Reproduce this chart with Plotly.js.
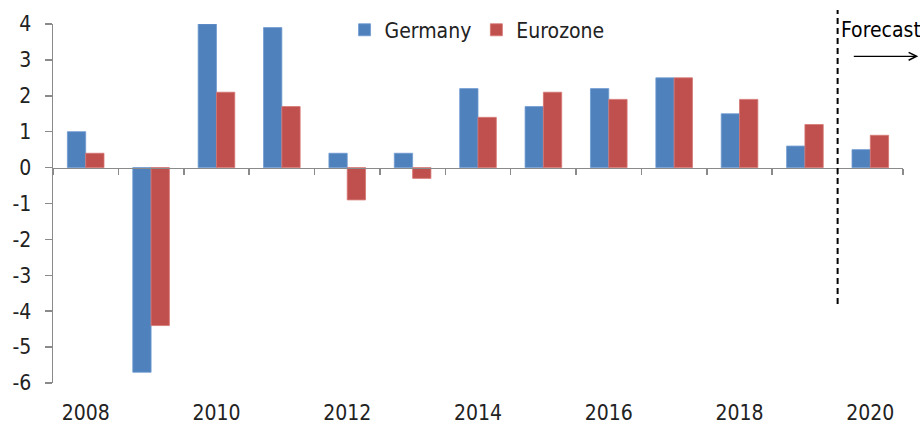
<!DOCTYPE html>
<html>
<head>
<meta charset="utf-8">
<script src="https://cdn.plot.ly/plotly-3.0.1.min.js"></script>
<style>html,body{margin:0;padding:0;background:#fff}#chart{width:920px;height:424px}
#chart text{font-stretch:condensed !important;}</style>
</head>
<body>
<div id="chart"></div>
<script>
const years = [2008, 2009, 2010, 2011, 2012, 2013, 2014, 2015, 2016, 2017, 2018, 2019, 2020];
const germany = [1.0, -5.7, 4.0, 3.9, 0.4, 0.4, 2.2, 1.7, 2.2, 2.5, 1.5, 0.6, 0.5];
const eurozone = [0.4, -4.4, 2.1, 1.7, -0.9, -0.3, 1.4, 2.1, 1.9, 2.5, 1.9, 1.2, 0.9];
const xTickLabels = ['2008', '2010', '2012', '2014', '2016', '2018', '2020'];
const yTicks = [-6, -5, -4, -3, -2, -1, 0, 1, 2, 3, 4];
const yTickLabels = ['-6', '-5', '-4', '-3', '-2', '-1', '0', '1', '2', '3', '4'];

const FONT = '"DejaVu Sans Condensed", "DejaVu Sans", sans-serif';
const boundaries = [];
for (let i = 0; i <= years.length; i++) boundaries.push(years[0] - 0.5 + i);

const traces = [
  {type: 'bar', name: 'Germany', x: years, y: germany,
   marker: {color: '#4F81BD', line: {color: '#6F9AD0', width: 0.8}}},
  {type: 'bar', name: 'Eurozone', x: years, y: eurozone,
   marker: {color: '#C0504D', line: {color: '#D67572', width: 0.8}}},
  {type: 'scatter', mode: 'none', x: years, y: germany, xaxis: 'x2', yaxis: 'y',
   showlegend: false, hoverinfo: 'skip'}
];

const layout = {
  width: 920, height: 424,
  margin: {l: 53, r: 17, t: 24, b: 41, autoexpand: false},
  paper_bgcolor: '#fff', plot_bgcolor: '#fff',
  font: {family: FONT, size: 21, color: '#222'},
  barmode: 'group', bargap: 0.44, bargroupgap: 0,
  showlegend: true,
  legend: {orientation: 'h', x: 0.343, y: 1.04, xanchor: 'left', yanchor: 'top',
           bgcolor: 'rgba(0,0,0,0)', font: {family: FONT, size: 21, color: '#222'},
           itemwidth: 30, traceorder: 'normal'},
  xaxis: {range: [2007.5, 2020.5], tickmode: 'array', tickvals: xTickLabels.map(Number),
          ticktext: xTickLabels, ticks: 'outside', ticklen: 11, tickcolor: 'rgba(0,0,0,0)',
          showline: false, showgrid: false, zeroline: false, fixedrange: true},
  xaxis2: {overlaying: 'x', anchor: 'free', position: 0.6, side: 'bottom',
           range: [2007.5, 2020.5], tickmode: 'array', tickvals: boundaries,
           ticks: 'outside', ticklen: 6, tickwidth: 1.5, tickcolor: '#8a8a8a',
           showticklabels: false, showline: true, linecolor: '#8a8a8a', linewidth: 1.5,
           showgrid: false, zeroline: false},
  yaxis: {range: [-6, 4], tickmode: 'array', tickvals: yTicks, ticktext: yTickLabels,
          ticks: 'outside', ticklen: 7, tickwidth: 1.5, tickcolor: '#8a8a8a',
          showline: true, linecolor: '#8a8a8a', linewidth: 1.5,
          showgrid: false, zeroline: false, ticklabelstandoff: 9},
  shapes: [
    {type: 'line', xref: 'x', yref: 'paper', x0: 2019.5, x1: 2019.5, y0: 0.22, y1: 1.039,
     line: {color: '#000', width: 2, dash: '6px,4px'}}
  ],
  annotations: [
    {xref: 'x', yref: 'paper', x: 2019.52, y: 1.022, xanchor: 'left', yanchor: 'top',
     text: 'Forecast', showarrow: false, font: {family: FONT, size: 21, color: '#000'}},
    {xref: 'paper', yref: 'paper', x: 1.018, y: 0.91, ax: -66, ay: 0, text: '',
     showarrow: true, arrowhead: 5, arrowsize: 1.3, arrowwidth: 1.2, arrowcolor: '#000'}
  ]
};

Plotly.newPlot('chart', traces, layout, {displayModeBar: false, staticPlot: true});
</script>
</body>
</html>
